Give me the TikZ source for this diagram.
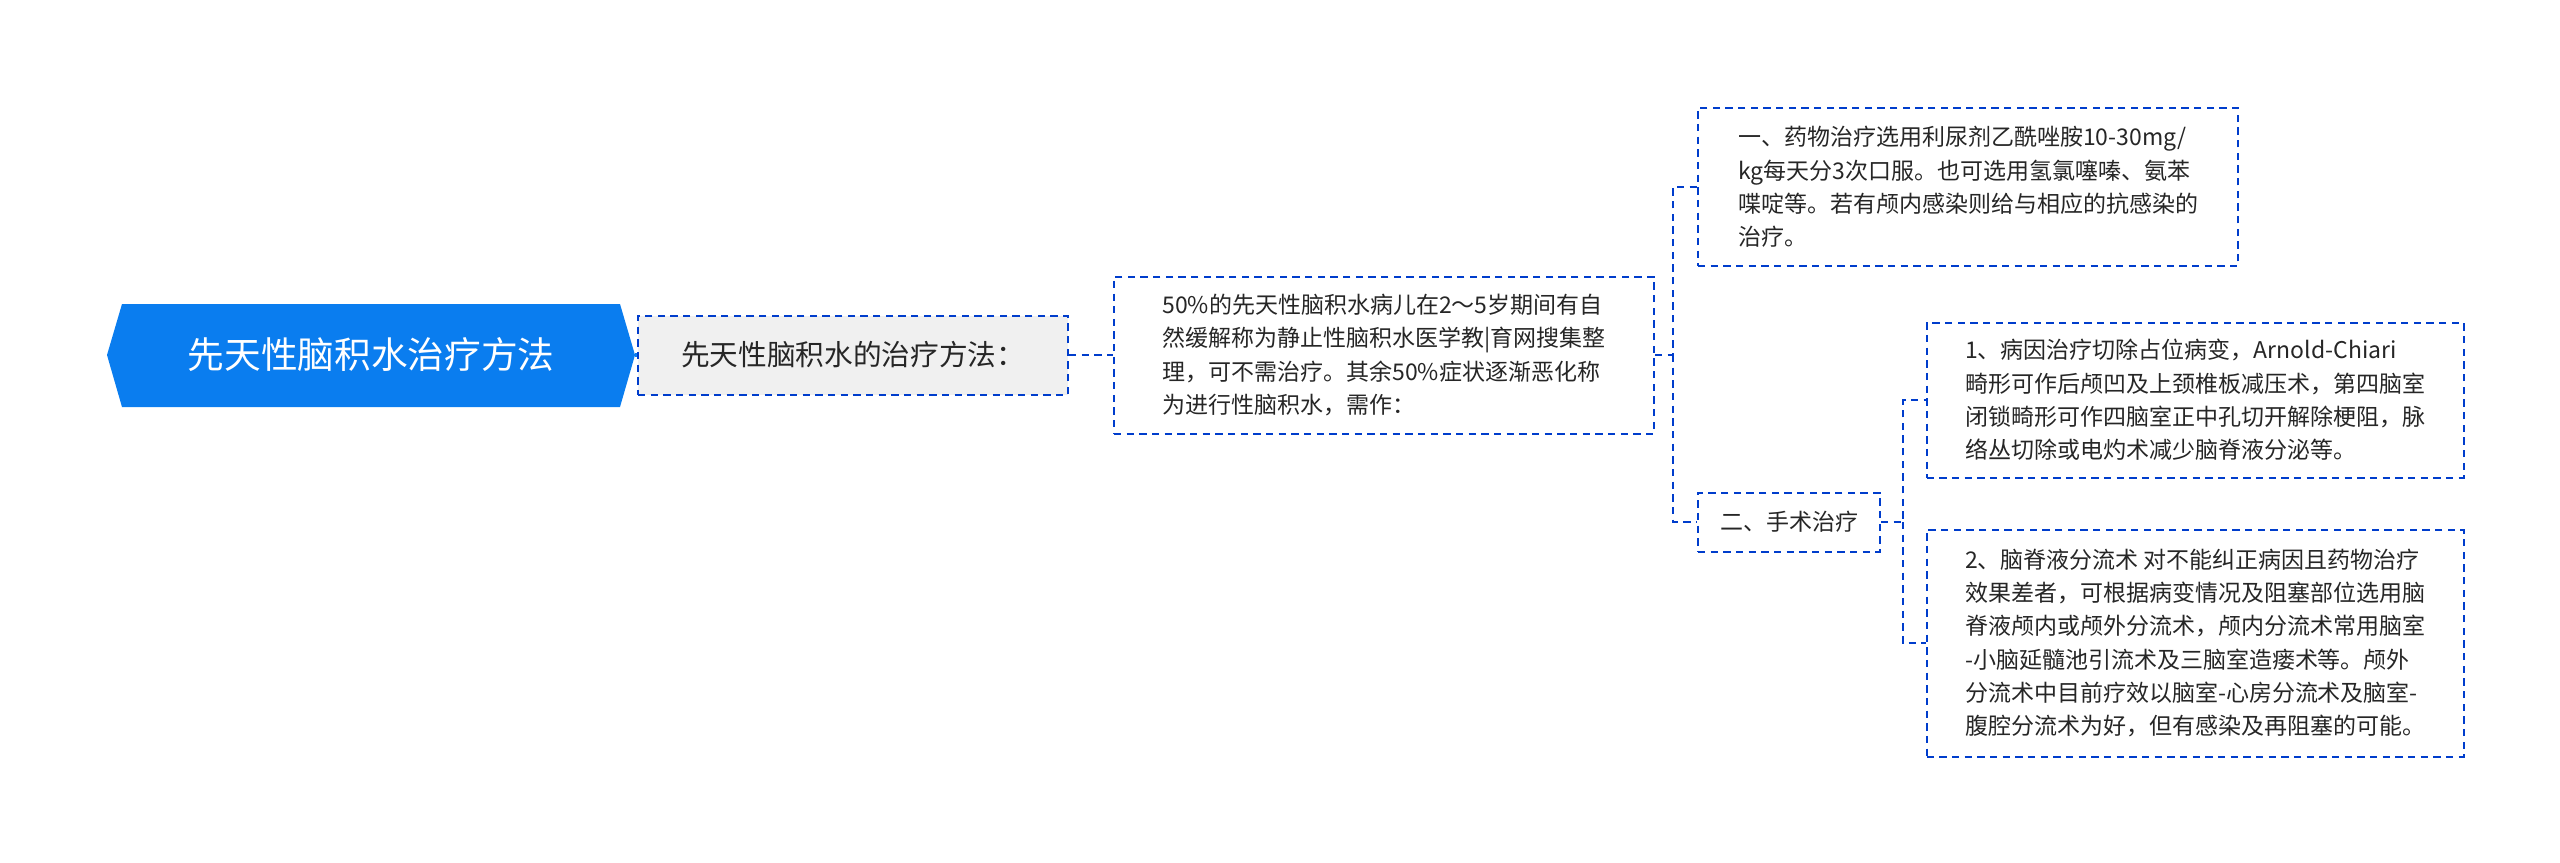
\documentclass[tikz,border=0pt]{standalone}
\usepackage{fontspec}
\setmainfont{Noto Sans CJK SC}
\begin{document}
\begin{tikzpicture}[x=0.3pt,y=-0.3pt,
  box/.style={draw=blue!70!cyan!80!black,dashed,line width=0.6pt,dash pattern=on 2.2pt off 1.6pt,inner sep=0pt,align=left,font=\fontsize{6.9}{10}\selectfont,text=black!85},
  conn/.style={draw=blue!70!cyan!80!black,line width=0.6pt,dash pattern=on 2.2pt off 1.6pt}]
\definecolor{rootblue}{HTML}{0A7DEF}
\useasboundingbox (0,0) rectangle (2560,862);
% root
\fill[rootblue] (107,355)--(122,304)--(620,304)--(635,355)--(620,407)--(122,407)--cycle;
\node[text=white,font=\fontsize{11}{13}\selectfont] (root) at (371,355) {先天性脑积水治疗方法};
\coordinate (rootR) at (635,355);
% sub1
\node[box,fill=gray!12,minimum width=430*0.3pt,minimum height=79*0.3pt,font=\fontsize{8.6}{10}\selectfont,align=center] (s1) at (853,355) {先天性脑积水的治疗方法：};
\draw[rootblue,line width=1pt] (rootR) -- (s1.west);
% node3
\node[box,minimum width=540*0.3pt,minimum height=157*0.3pt] (n3) at (1384,355) {50\%的先天性脑积水病儿在2～5岁期间有自\\然缓解称为静止性脑积水医学教|育网搜集整\\理，可不需治疗。其余50\%症状逐渐恶化称\\为进行性脑积水，需作：};
\draw[conn] (s1.east) -- (n3.west);
% node4
\node[box,minimum width=540*0.3pt,minimum height=158*0.3pt] (n4) at (1968,187) {一、药物治疗选用利尿剂乙酰唑胺10-30mg/\\kg每天分3次口服。也可选用氢氯噻嗪、氨苯\\喋啶等。若有颅内感染则给与相应的抗感染的\\治疗。};
% node5
\node[box,minimum width=182*0.3pt,minimum height=59*0.3pt,align=center] (n5) at (1789,522) {二、手术治疗};
\coordinate (j1) at (1673,355);
\draw[conn] (n3.east) -- (j1) |- (n4.west);
\draw[conn] (j1) |- (n5.west);
% node6
\node[box,minimum width=537*0.3pt,minimum height=155*0.3pt] (n6) at (2195,400) {1、病因治疗切除占位病变，Arnold-Chiari\\畸形可作后颅凹及上颈椎板减压术，第四脑室\\闭锁畸形可作四脑室正中孔切开解除梗阻，脉\\络丛切除或电灼术减少脑脊液分泌等。};
% node7
\node[box,minimum width=537*0.3pt,minimum height=227*0.3pt] (n7) at (2195,643) {2、脑脊液分流术 对不能纠正病因且药物治疗\\效果差者，可根据病变情况及阻塞部位选用脑\\脊液颅内或颅外分流术，颅内分流术常用脑室\\-小脑延髓池引流术及三脑室造瘘术等。颅外\\分流术中目前疗效以脑室-心房分流术及脑室-\\腹腔分流术为好，但有感染及再阻塞的可能。};
\coordinate (j2) at (1903,522);
\draw[conn] (n5.east) -- (j2) |- (n6.west);
\draw[conn] (j2) |- (n7.west);
\end{tikzpicture}
\end{document}
